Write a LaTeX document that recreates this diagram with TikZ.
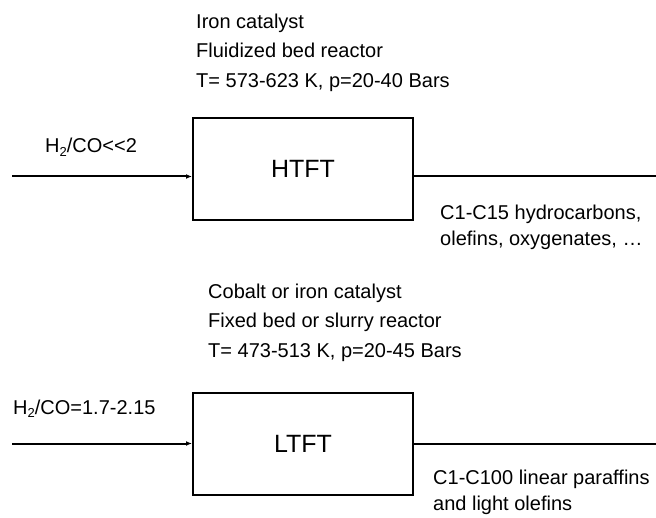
\documentclass[tikz,border=0pt]{standalone}
\usepackage{fontspec}
\setmainfont{Liberation Sans}
\usetikzlibrary{arrows.meta}
\tikzset{
  reactor/.style={draw, line width=2pt, minimum width=220pt, minimum height=102pt, inner sep=0pt, font=\fontsize{25}{30}\selectfont},
  note/.style={anchor=north west, inner sep=0pt, align=left, font=\fontsize{20}{29.5}\selectfont},
  product/.style={anchor=north west, inner sep=0pt, align=left, font=\fontsize{20}{26}\selectfont},
  feedlabel/.style={anchor=base west, inner sep=0pt, font=\fontsize{20}{24}\selectfont},
  flow/.style={line width=2pt},
  feed/.style={flow, -{Latex[length=6pt,width=5pt]}}
}
\newcommand{\subtwo}{\raisebox{-0.35ex}{\fontsize{13}{14}\selectfont 2}}
\begin{document}
\begin{tikzpicture}[x=1pt,y=-1pt]
\useasboundingbox (0,0) rectangle (656,518);
% HTFT
\node[reactor] (htft) at (303,169) {HTFT};
\node[note] (htftcond) at (196,13.5) {Iron catalyst\\Fluidized bed reactor\\T= 573-623 K, p=20-40 Bars};
\node[feedlabel] (htftin) at (45,153) {H\subtwo/CO<{}<2};
\node[product] (htftout) at (440,204.5) {C1-C15 hydrocarbons,\\olefins, oxygenates, \dots};
\coordinate (hs) at (12,176.5);
\coordinate (he) at (656,176.5);
\draw[feed] (hs) -- (hs -| htft.west);
\draw[flow] (htft.east |- he) -- (he);
% LTFT
\node[reactor] (ltft) at (303,444) {LTFT};
\node[note] (ltftcond) at (208,283.5) {Cobalt or iron catalyst\\Fixed bed or slurry reactor\\T= 473-513 K, p=20-45 Bars};
\node[feedlabel] (ltftin) at (13,414) {H\subtwo/CO=1.7-2.15};
\node[product] (ltftout) at (433,469.5) {C1-C100 linear paraffins\\and light olefins};
\coordinate (ls) at (12,443.5);
\coordinate (le) at (656,443.5);
\draw[feed] (ls) -- (ls -| ltft.west);
\draw[flow] (ltft.east |- le) -- (le);
\end{tikzpicture}
\end{document}
